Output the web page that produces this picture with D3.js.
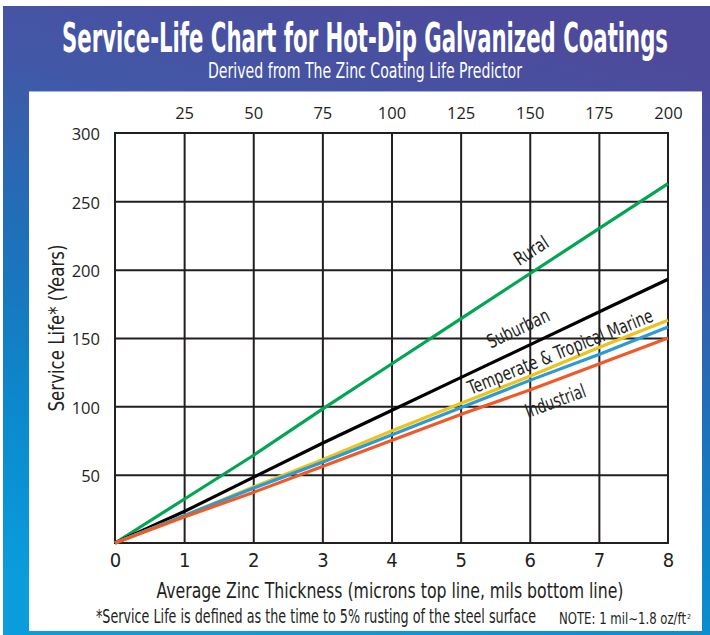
<!DOCTYPE html>
<html>
<head>
<meta charset="utf-8">
<script src="https://cdn.jsdelivr.net/npm/d3@7"></script>
<style>
  body { margin: 0; background: #fff; }
  svg { display: block; }
  .narrow { font-family: "Liberation Sans Narrow", "DejaVu Sans Condensed", "Roboto Condensed", Roboto, sans-serif; font-stretch: condensed; }
  .humanist { font-family: "Open Sans", "Noto Sans", sans-serif; }
</style>
</head>
<body>
<svg id="chart" width="710" height="635"></svg>
<script>
"use strict"

// ======================================================================
// data (service life in years at each mil of zinc)
const mils        = [0, 1, 2, 3, 4, 5, 6, 7, 8];
const micronTicks = [25, 50, 75, 100, 125, 150, 175, 200];
const yearTicks   = [50, 100, 150, 200, 250, 300];

const rural      = [0, 32, 64, 98, 131, 164, 197, 230, 263];
const suburban   = [0, 23, 48, 73, 97, 121, 145, 169, 193];
const temperate  = [0, 20, 41, 61, 82, 102, 122, 143, 163];
const tropical   = [0, 20, 40, 59, 79, 99, 119, 138, 158];
const industrial = [0, 19, 37, 56, 75, 94, 112, 131, 150];

const seriesNames = ["Rural", "Suburban", "Temperate Marine", "Tropical Marine", "Industrial"];
const seriesData  = [rural, suburban, temperate, tropical, industrial];

// styles kept apart from the values
const seriesColors = ["#00a651", "#000000", "#ecc318", "#2b9ad8", "#f05a28"];

// line labels: which series they follow, where they sit (in data units) and how long they run
const lineLabels = [
  {text: "Rural",                       series: 0, at: 6.02, val: 214, len: 37},
  {text: "Suburban",                    series: 1, at: 5.83, val: 157, len: 67},
  {text: "Temperate & Tropical Marine", series: 2, at: 6.44, val: 140, len: 198},
  {text: "Industrial",                  series: 4, at: 6.37, val: 104, len: 63}
];

// ======================================================================
const svg = d3.select("#chart");

const margin = {top: 133, left: 115, right: 668, bottom: 543};

// background gradient frame
const defs = svg.append("defs");
const grad = defs.append("linearGradient")
    .attr("id", "bg")
    .attr("x1", 0.65).attr("y1", 0)
    .attr("x2", 0.35).attr("y2", 1);
[[0, "#4d4a9b"], [0.25, "#4258a7"], [0.5, "#1f6fb8"], [0.75, "#0c88cc"], [1, "#0a9cdb"]]
  .forEach(s => grad.append("stop").attr("offset", s[0]).attr("stop-color", s[1]));

svg.append("rect")
    .attr("x", 3).attr("y", 6)
    .attr("width", 707).attr("height", 629)
    .attr("fill", "url(#bg)");

// white panel
svg.append("rect")
    .attr("x", 29).attr("y", 91)
    .attr("width", 673).attr("height", 540)
    .attr("fill", "#fff");
svg.append("line")
    .attr("x1", 29).attr("x2", 702)
    .attr("y1", 91.5).attr("y2", 91.5)
    .attr("stroke", "#a7b0de").attr("stroke-width", 1);

// titles
svg.append("text")
    .attr("class", "narrow")
    .attr("x", 365).attr("y", 52)
    .attr("text-anchor", "middle")
    .attr("fill", "#fff")
    .attr("font-size", 40)
    .attr("font-weight", "bold")
    .attr("textLength", 606)
    .attr("lengthAdjust", "spacingAndGlyphs")
    .text("Service-Life Chart for Hot-Dip Galvanized Coatings");

svg.append("text")
    .attr("class", "narrow")
    .attr("x", 365).attr("y", 78)
    .attr("text-anchor", "middle")
    .attr("fill", "#fff")
    .attr("font-size", 22)
    .attr("textLength", 314)
    .attr("lengthAdjust", "spacingAndGlyphs")
    .text("Derived from The Zinc Coating Life Predictor");

// ======================================================================
// scales
const x    = d3.scaleLinear().domain([0, 8]).range([margin.left, margin.right]);
const xTop = d3.scaleLinear().domain([0, 200]).range([margin.left, margin.right]);
const y    = d3.scaleLinear().domain([0, 300]).range([margin.bottom, margin.top]);

const plotW = margin.right - margin.left;
const plotH = margin.bottom - margin.top;
const gridColor = "#231f20";

// vertical grid lines
svg.append("g")
    .attr("transform", `translate(0,${margin.bottom})`)
    .call(d3.axisBottom(x).tickValues(mils.slice(1, -1)).tickSize(-plotH).tickFormat(""))
    .call(g => g.select(".domain").remove())
    .call(g => g.selectAll("line").attr("stroke", gridColor).attr("stroke-width", 2));

// horizontal grid lines
svg.append("g")
    .attr("transform", `translate(${margin.left},0)`)
    .call(d3.axisLeft(y).tickValues(yearTicks.slice(0, -1)).tickSize(-plotW).tickFormat(""))
    .call(g => g.select(".domain").remove())
    .call(g => g.selectAll("line").attr("stroke", gridColor).attr("stroke-width", 2));

// frame
svg.append("rect")
    .attr("x", margin.left).attr("y", margin.top)
    .attr("width", plotW).attr("height", plotH)
    .attr("fill", "none")
    .attr("stroke", gridColor).attr("stroke-width", 2);

// bottom labels (mils)
svg.append("g")
    .attr("transform", `translate(0,${margin.bottom})`)
    .call(d3.axisBottom(x).tickValues(mils).tickSize(0).tickPadding(0).tickFormat(d3.format("d")))
    .call(g => g.select(".domain").remove())
    .call(g => g.selectAll("text")
        .attr("class", "narrow")
        .attr("font-size", 20)
        .attr("fill", "#231f20")
        .attr("y", 24).attr("dy", 0));

// top labels (microns)
svg.append("g")
    .attr("transform", `translate(0,${margin.top})`)
    .call(d3.axisTop(xTop).tickValues(micronTicks).tickSize(0).tickFormat(d3.format("d")))
    .call(g => g.select(".domain").remove())
    .call(g => g.selectAll("text")
        .attr("class", "humanist")
        .attr("font-size", 16.5)
        .attr("fill", "#231f20")
        .attr("y", -14).attr("dy", 0));

// left labels (years)
svg.append("g")
    .attr("transform", `translate(${margin.left},0)`)
    .call(d3.axisLeft(y).tickValues(yearTicks).tickSize(0).tickFormat(d3.format("d")))
    .call(g => g.select(".domain").remove())
    .call(g => g.selectAll("text")
        .attr("class", "humanist")
        .attr("font-size", 16.5)
        .attr("fill", "#231f20")
        .attr("x", -15).attr("dy", "0.42em"));

// ======================================================================
// the five service-life lines
const line = d3.line()
    .x((d, i) => x(mils[i]))
    .y(d => y(d));

svg.append("g")
    .selectAll("path")
    .data(seriesData)
    .enter().append("path")
      .attr("d", d => line(d))
      .attr("fill", "none")
      .attr("stroke", (d, i) => seriesColors[i])
      .attr("stroke-width", 3.2)
      .attr("stroke-linecap", "butt");

// labels rotated along their line
lineLabels.forEach(l => {
  const s = seriesData[l.series];
  const angle = Math.atan2(y(s[8]) - y(s[0]), x(8) - x(0)) * 180 / Math.PI;
  svg.append("text")
      .attr("class", "narrow")
      .attr("transform", `translate(${x(l.at)},${y(l.val)}) rotate(${angle})`)
      .attr("text-anchor", "middle")
      .attr("dy", "0.35em")
      .attr("font-size", 19)
      .attr("fill", "#231f20")
      .attr("textLength", l.len)
      .attr("lengthAdjust", "spacingAndGlyphs")
      .text(l.text);
});

// ======================================================================
// axis titles and notes
svg.append("text")
    .attr("class", "narrow")
    .attr("transform", "translate(64,328) rotate(-90)")
    .attr("text-anchor", "middle")
    .attr("font-size", 22)
    .attr("fill", "#231f20")
    .attr("textLength", 167)
    .attr("lengthAdjust", "spacingAndGlyphs")
    .text("Service Life* (Years)");

svg.append("text")
    .attr("class", "narrow")
    .attr("x", 390).attr("y", 598)
    .attr("text-anchor", "middle")
    .attr("font-size", 22)
    .attr("fill", "#231f20")
    .attr("textLength", 467)
    .attr("lengthAdjust", "spacingAndGlyphs")
    .text("Average Zinc Thickness (microns top line, mils bottom line)");

svg.append("text")
    .attr("class", "narrow")
    .attr("x", 96).attr("y", 623)
    .attr("font-size", 19)
    .attr("fill", "#231f20")
    .attr("textLength", 440)
    .attr("lengthAdjust", "spacingAndGlyphs")
    .text("*Service Life is defined as the time to 5% rusting of the steel surface");

// note, with its small superscript kept as a separate text
svg.append("text")
    .attr("class", "narrow")
    .attr("x", 559).attr("y", 624)
    .attr("font-size", 15)
    .attr("fill", "#231f20")
    .attr("textLength", 127)
    .attr("lengthAdjust", "spacingAndGlyphs")
    .text("NOTE: 1 mil\u223C1.8 oz/ft");

svg.append("text")
    .attr("class", "narrow")
    .attr("x", 687).attr("y", 619)
    .attr("font-size", 7)
    .attr("fill", "#231f20")
    .text("2");
</script>
</body>
</html>
